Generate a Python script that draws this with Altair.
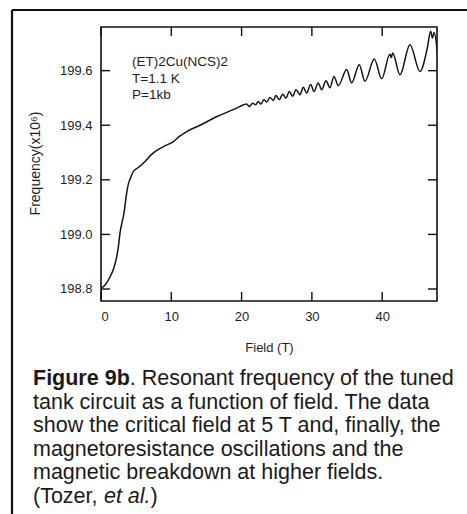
import altair as alt
import pandas as pd

# Field (T) and resonant frequency (x10^6) of the tank circuit
field = [0.0, 0.05, 0.6, 1.28, 1.8, 2.23, 2.5, 2.7, 3.0, 3.27, 3.65, 3.9, 4.1, 4.6,
         5.3, 6.0, 7.4, 8.9, 10.3, 11.2, 12.2, 14.1, 16.5, 18.8, 19.8,
         20.72, 21.10, 21.58, 22.00, 22.38, 22.76, 23.19, 23.57, 24.04, 24.51,
         24.89, 25.37, 25.84, 26.32, 26.79, 27.26, 27.74, 28.31, 28.78, 29.26,
         29.83, 30.30, 30.91, 31.39, 32.01, 32.57, 33.14, 33.76,
         34.95, 35.66, 36.74, 37.55, 38.88, 39.93, 41.10, 41.30, 41.50, 42.53,
         43.95, 45.38, 46.40, 46.90, 47.15, 47.40, 47.90]
freq = [198.765, 198.80, 198.815, 198.844, 198.875, 198.918, 198.96, 199.005, 199.045,
        199.078, 199.151, 199.185, 199.200, 199.230,
        199.245, 199.261, 199.298, 199.322, 199.340, 199.360, 199.377, 199.400, 199.432,
        199.457, 199.469,
        199.478, 199.469, 199.481, 199.475, 199.487, 199.478, 199.494, 199.485, 199.502, 199.491,
        199.509, 199.494, 199.514, 199.500, 199.524, 199.506, 199.530, 199.512, 199.539, 199.518,
        199.549, 199.524, 199.555, 199.530, 199.563, 199.537, 199.579, 199.545,
        199.604, 199.555, 199.622, 199.561, 199.643, 199.570, 199.660, 199.648, 199.665, 199.585,
        199.695, 199.597, 199.680, 199.744, 199.720, 199.740, 199.652]

x_ticks = [0, 10, 20, 30, 40]
y_ticks = [198.8, 199.0, 199.2, 199.4, 199.6]

legend_lines = ["(ET)2Cu(NCS)2", "T=1.1 K", "P=1kb"]

caption_lines = [
    "tank circuit as a function of field. The data",
    "show the critical field at 5 T and, finally, the",
    "magnetoresistance oscillations and the",
    "magnetic breakdown at higher fields.",
]

W, H = 336, 274
FONT = "Liberation Sans"
CAP = 21.5

xs = alt.Scale(domain=[0, 47.8], nice=False, zero=False)
ys = alt.Scale(domain=[198.756, 199.76], nice=False, zero=False)

x_axis = alt.Axis(values=x_ticks, ticks=False, domain=False, grid=False,
                  labelFont=FONT, labelFontSize=13, labelColor="#1e1e1e",
                  labelPadding=9, title="Field (T)", titleFont=FONT,
                  titleFontSize=13, titleFontWeight="normal", titleColor="#1e1e1e",
                  titleY=46, titleBaseline="middle")
y_axis = alt.Axis(values=y_ticks, ticks=False, domain=False, grid=False,
                  format=".1f", labelFont=FONT, labelFontSize=13,
                  labelColor="#1e1e1e", labelPadding=9,
                  title="Frequency(x10⁶)", titleFont=FONT, titleFontSize=14,
                  titleFontWeight="normal", titleColor="#1e1e1e",
                  titleX=-66, titleY=136, titleAngle=-90,
                  titleAlign="center", titleBaseline="middle")

df = pd.DataFrame({"field": field, "freq": freq})
xt = pd.DataFrame({"field": x_ticks})
yt = pd.DataFrame({"freq": y_ticks})
one = pd.DataFrame({"k": [0]})

curve = alt.Chart(df).mark_line(color="#141414", strokeWidth=1.5, clip=True,
                                interpolate="monotone").encode(
    x=alt.X("field:Q", scale=xs, axis=x_axis),
    y=alt.Y("freq:Q", scale=ys, axis=y_axis),
)

tick_style = dict(color="#111", strokeWidth=1.4)
bottom_ticks = alt.Chart(xt).mark_rule(**tick_style).encode(
    x=alt.X("field:Q", scale=xs, axis=x_axis), y=alt.value(H), y2=alt.value(H - 9))
top_ticks = alt.Chart(xt).mark_rule(**tick_style).encode(
    x=alt.X("field:Q", scale=xs, axis=x_axis), y=alt.value(0), y2=alt.value(9))
left_ticks = alt.Chart(yt).mark_rule(**tick_style).encode(
    y=alt.Y("freq:Q", scale=ys, axis=y_axis), x=alt.value(0), x2=alt.value(9))
right_ticks = alt.Chart(yt).mark_rule(**tick_style).encode(
    y=alt.Y("freq:Q", scale=ys, axis=y_axis), x=alt.value(W), x2=alt.value(W - 9))

layers = [curve, bottom_ticks, top_ticks, left_ticks, right_ticks]

# sample / conditions block inside the plot
for i, line in enumerate(legend_lines):
    layers.append(
        alt.Chart(one).mark_text(font=FONT, fontSize=13.5, color="#1e1e1e", align="left",
                                 baseline="middle", text=line)
        .encode(x=alt.value(31), y=alt.value(35 + 16.5 * i)))

# outer frame around figure and caption
frame = dict(color="#111", strokeWidth=2.2)
layers.append(alt.Chart(one).mark_rule(**frame).encode(
    x=alt.value(-89), x2=alt.value(366), y=alt.value(-17)))
layers.append(alt.Chart(one).mark_rule(**frame).encode(
    x=alt.value(-89), y=alt.value(-17), y2=alt.value(487)))

# caption
base_x = -68
cap_y0 = 358
step = 23.5
layers.append(alt.Chart(one).mark_text(font=FONT, fontSize=CAP, fontWeight="bold",
                                       color="#1a1a1a", align="left", baseline="alphabetic",
                                       text="Figure 9b")
              .encode(x=alt.value(base_x), y=alt.value(cap_y0)))
layers.append(alt.Chart(one).mark_text(font=FONT, fontSize=CAP, color="#1a1a1a",
                                       align="left", baseline="alphabetic",
                                       text=". Resonant frequency of the tuned")
              .encode(x=alt.value(base_x + 4.501 * CAP), y=alt.value(cap_y0)))
for i, line in enumerate(caption_lines):
    layers.append(alt.Chart(one).mark_text(font=FONT, fontSize=CAP, color="#1a1a1a",
                                           align="left", baseline="alphabetic", text=line)
                  .encode(x=alt.value(base_x), y=alt.value(cap_y0 + step * (i + 1))))
last_y = cap_y0 + step * 5
layers.append(alt.Chart(one).mark_text(font=FONT, fontSize=CAP, color="#1a1a1a",
                                       align="left", baseline="alphabetic", text="(Tozer,")
              .encode(x=alt.value(base_x), y=alt.value(last_y)))
layers.append(alt.Chart(one).mark_text(font=FONT, fontSize=CAP, fontStyle="italic",
                                       color="#1a1a1a", align="left", baseline="alphabetic",
                                       text="et al.")
              .encode(x=alt.value(base_x + 3.3 * CAP), y=alt.value(last_y)))
layers.append(alt.Chart(one).mark_text(font=FONT, fontSize=CAP, color="#1a1a1a",
                                       align="left", baseline="alphabetic", text=")")
              .encode(x=alt.value(base_x + (3.3 + 2.168) * CAP), y=alt.value(last_y)))

chart = alt.layer(*layers).properties(
    width=W, height=H, autosize="none",
    padding={"left": 101, "top": 27, "right": 30, "bottom": 213},
    background="white",
).configure_view(stroke="#111", strokeWidth=1.6)

chart.save("out.html", embed_options={"renderer": "svg", "actions": False})
